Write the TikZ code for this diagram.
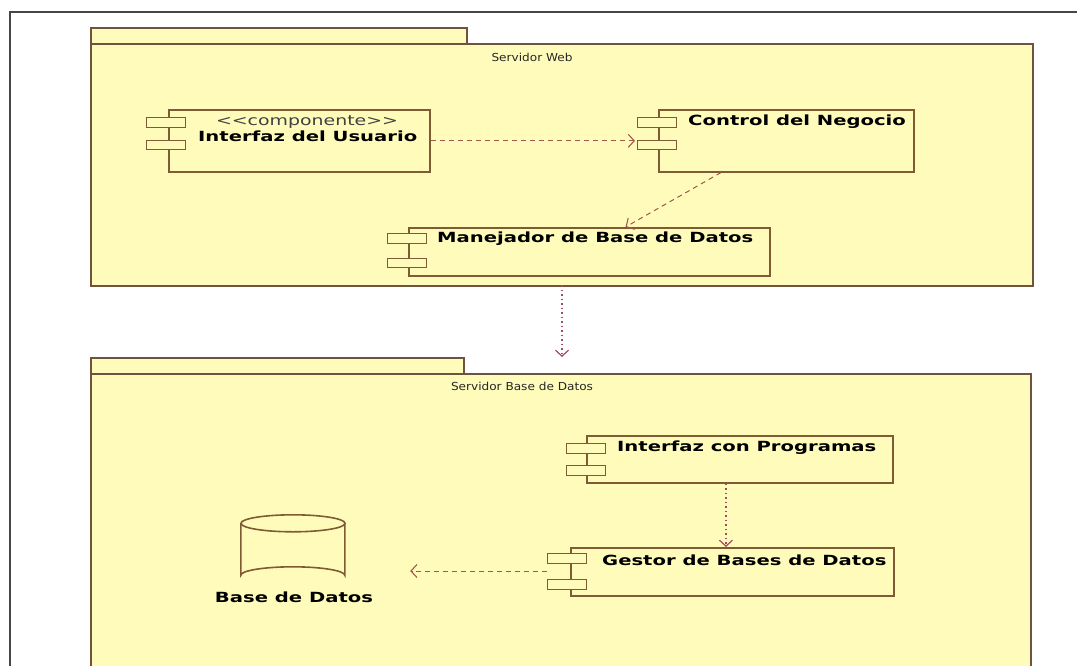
\documentclass[tikz,border=0pt]{standalone}
\usepackage{fontspec}
\setmainfont{DejaVu Sans}
\newfontfamily\lblfont[FakeStretch=1.4]{DejaVu Sans}
\newfontfamily\stfont[FakeStretch=1.35]{DejaVu Sans}
\newfontfamily\pkfont[FakeStretch=1.1]{DejaVu Sans}
\usetikzlibrary{arrows.meta,calc}
\definecolor{pkgfill}{RGB}{255,252,187}
\definecolor{pkgline}{RGB}{112,82,62}
\definecolor{compline}{RGB}{128,90,52}
\definecolor{dashcol}{RGB}{160,88,76}
\definecolor{dotcol}{RGB}{160,76,100}
\definecolor{framecol}{RGB}{70,70,70}
\begin{document}
\begin{tikzpicture}[x=1pt,y=-1pt,
  pkgbox/.style={draw=pkgline,fill=pkgfill,line width=1.8pt,inner sep=0pt,anchor=north west},
  compbox/.style={draw=compline,fill=pkgfill,line width=1.6pt,inner sep=0pt,anchor=north west},
  port/.style={draw=compline,fill=pkgfill,line width=1.4pt,inner sep=0pt,anchor=north west,minimum width=39pt,minimum height=9.5pt},
  boldlbl/.style={font=\lblfont\fontsize{14}{16}\selectfont\bfseries,inner sep=0pt,anchor=west,text=black},
  stlbl/.style={font=\stfont\fontsize{14}{16}\selectfont,inner sep=0pt,text=black!75},
  plainlbl/.style={font=\pkfont\fontsize{11}{13}\selectfont,inner sep=0pt,text=black!85},
  dashdep/.style={draw=dashcol,line width=1pt,dash pattern=on 5pt off 4pt,-{Straight Barb[length=6pt,width=13pt,line width=1.1pt]}},
  dotdep/.style={draw=dotcol,line width=1.5pt,dash pattern=on 1.5pt off 3pt,-{Straight Barb[length=6pt,width=13pt,line width=1.2pt]}}
]
\useasboundingbox (0,0) rectangle (1077,665);
\fill[white] (0,0) rectangle (1077,665);
% outer frame
\draw[framecol,line width=1.2pt] (10,670) -- (10,12) -- (1080,12);

% ---- Servidor Web package
\node[pkgbox,minimum width=376pt,minimum height=16pt] (tabA) at (90,27) {};
\node[pkgbox,minimum width=942pt,minimum height=242pt] (pkgA) at (90,43) {};
\node[plainlbl] (tA) at (532,57) {Servidor Web};

% Interfaz del Usuario
\node[compbox,minimum width=261pt,minimum height=62pt] (ui) at (168,109) {};
\node[port] (uip1) at (146,117) {};
\node[port] (uip2) at (146,139.5) {};
\node[stlbl] (uist) at (307,122) {<{}<componente>{}>};
\node[boldlbl] (uil) at (198,136) {Interfaz del Usuario};

% Control del Negocio
\node[compbox,minimum width=255pt,minimum height=62pt] (cn) at (658,109) {};
\node[port] (cnp1) at (637,117) {};
\node[port] (cnp2) at (637,139.5) {};
\node[boldlbl] (cnl) at (688,122) {Control del Negocio};

% Manejador de Base de Datos
\node[compbox,minimum width=361pt,minimum height=48pt] (mb) at (408,227) {};
\node[port] (mbp1) at (387,233) {};
\node[port] (mbp2) at (387,257.5) {};
\node[boldlbl] (mbl) at (437,239) {Manejador de Base de Datos};

% ---- Servidor Base de Datos package
\node[pkgbox,minimum width=373pt,minimum height=16pt] (tabB) at (90,357) {};
\node[pkgbox,minimum width=940pt,minimum height=320pt] (pkgB) at (90,373) {};
\node[plainlbl] (tB) at (522,386) {Servidor Base de Datos};

% Interfaz con Programas
\node[compbox,minimum width=306pt,minimum height=47pt] (ip) at (586,435) {};
\node[port] (ipp1) at (566,443) {};
\node[port] (ipp2) at (566,465) {};
\node[boldlbl] (ipl) at (617,448) {Interfaz con Programas};

% Gestor de Bases de Datos
\node[compbox,minimum width=323pt,minimum height=48pt] (gb) at (570,547) {};
\node[port] (gbp1) at (547,553) {};
\node[port] (gbp2) at (547,579) {};
\node[boldlbl] (gbl) at (602,560) {Gestor de Bases de Datos};

% Base de Datos (cylinder)
\node[inner sep=0pt,minimum width=104pt,minimum height=68pt] (db) at (293,549) {};
\draw[compline,fill=pkgfill,line width=1.6pt]
  (db.north west) ++(0,8.5) -- ++(0,52)
  arc[start angle=180,end angle=360,x radius=52pt,y radius=-8.5pt]
  -- ++(0,-52);
\draw[compline,fill=pkgfill,line width=1.6pt] ($(db.north)+(0,8.5)$) ellipse[x radius=52pt,y radius=8.5pt];
\node[boldlbl,anchor=center] (dbl) at (294,597) {Base de Datos};

% ---- connectors
\coordinate (ui2cn) at ($(ui.east -| cnp2.west)+(-2,0)$);
\draw[dashdep] (ui.east) -- (ui2cn);
\coordinate (cnout) at ($(cn.south west)!0.245!(cn.south east)$);
\coordinate (mbin) at ($(mb.north west)!0.60!(mb.north east)$);
\draw[dashdep] (cnout) -- (mbin);
\coordinate (pkout) at (562,285);
\draw[dotdep] (pkout) -- (pkout |- tabB.north);
\coordinate (ipout) at ($(ip.south west)!0.455!(ip.south east)$);
\draw[dotdep] (ipout) -- (ipout |- gb.north);
\coordinate (dbin) at ($(db.east)+(65,22)$);
\draw[dashdep] (gbp1.south west |- dbin) -- (dbin);
\end{tikzpicture}
\end{document}
